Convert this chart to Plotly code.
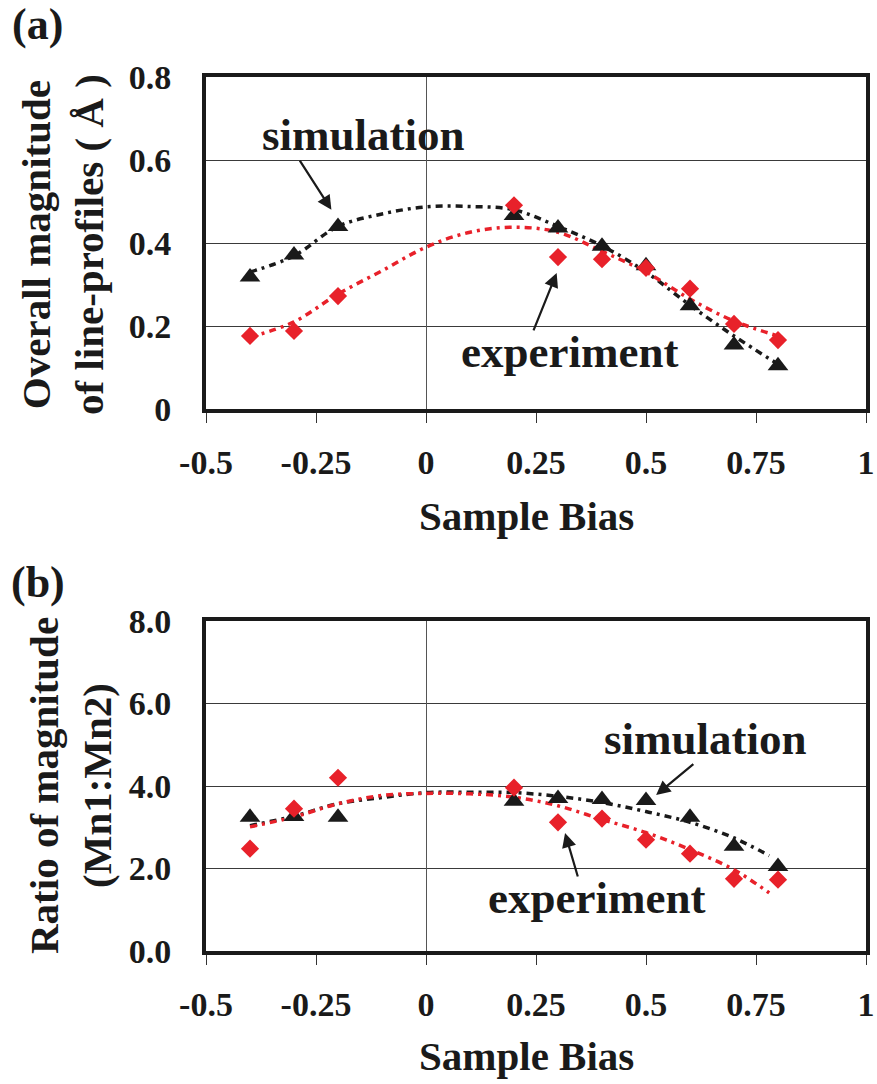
import plotly.graph_objects as go

# ---------------- data ----------------
bias = [-0.4, -0.3, -0.2, 0.2, 0.3, 0.4, 0.5, 0.6, 0.7, 0.8]

sim_a = [0.318, 0.371, 0.440, 0.466, 0.436, 0.392, 0.345, 0.249, 0.154, 0.104]
exp_a = [0.176, 0.188, 0.272, 0.491, 0.366, 0.361, 0.340, 0.290, 0.205, 0.166]

sim_b = [3.24, 3.26, 3.24, 3.63, 3.70, 3.67, 3.65, 3.24, 2.54, 2.05]
exp_b = [2.48, 3.45, 4.20, 3.96, 3.12, 3.21, 2.70, 2.36, 1.75, 1.73]

trend_x = [-0.4, -0.3, -0.2, -0.1, 0.0, 0.1, 0.2, 0.3, 0.4, 0.5, 0.6, 0.7, 0.8]
sim_a_trend = [0.330, 0.369, 0.440, 0.470, 0.487, 0.488, 0.480, 0.440, 0.393, 0.330, 0.250, 0.176, 0.108]
exp_a_trend = [0.173, 0.210, 0.277, 0.333, 0.390, 0.426, 0.438, 0.426, 0.380, 0.330, 0.265, 0.212, 0.176]

trend_x_b = [-0.4, -0.3, -0.2, -0.1, 0.0, 0.1, 0.2, 0.3, 0.4, 0.5, 0.6, 0.7, 0.78]
sim_b_trend = [3.04, 3.27, 3.57, 3.72, 3.84, 3.85, 3.84, 3.75, 3.60, 3.38, 3.12, 2.74, 2.31]
exp_b_trend = [3.01, 3.25, 3.57, 3.77, 3.82, 3.81, 3.73, 3.52, 3.19, 2.87, 2.46, 1.97, 1.41]

x_tickvals = [-0.5, -0.25, 0, 0.25, 0.5, 0.75, 1]
x_ticktext = ["-0.5", "-0.25", "0", "0.25", "0.5", "0.75", "1"]
ya_tickvals = [0, 0.2, 0.4, 0.6, 0.8]
ya_ticktext = ["0", "0.2", "0.4", "0.6", "0.8"]
yb_tickvals = [0, 2, 4, 6, 8]
yb_ticktext = ["0.0", "2.0", "4.0", "6.0", "8.0"]

# ---------------- styling ----------------
W, H = 877, 1084
FONT = "Liberation Serif"
RED = "#e8212a"
BLACK = "#1a1a1a"
DASH = "7px,5px,3px,5px"


def px_x(p):
    return p / W


def px_y(p):
    return 1 - p / H


fig = go.Figure()

# panel (a)
fig.add_trace(go.Scatter(x=trend_x, y=sim_a_trend, mode="lines", line=dict(color=BLACK, width=3.5, dash=DASH, shape="spline"),
                         xaxis="x", yaxis="y", showlegend=False, hoverinfo="skip"))
fig.add_trace(go.Scatter(x=trend_x, y=exp_a_trend, mode="lines", line=dict(color=RED, width=3.5, dash=DASH, shape="spline"),
                         xaxis="x", yaxis="y", showlegend=False, hoverinfo="skip"))
fig.add_trace(go.Scatter(x=bias, y=sim_a, mode="markers", marker=dict(symbol="triangle-up", size=18, color=BLACK),
                         xaxis="x", yaxis="y", showlegend=False))
fig.add_trace(go.Scatter(x=bias, y=exp_a, mode="markers", marker=dict(symbol="diamond", size=14, color=RED),
                         xaxis="x", yaxis="y", showlegend=False))

# panel (b)
fig.add_trace(go.Scatter(x=trend_x_b, y=sim_b_trend, mode="lines", line=dict(color=BLACK, width=3.5, dash=DASH, shape="spline"),
                         xaxis="x2", yaxis="y2", showlegend=False, hoverinfo="skip"))
fig.add_trace(go.Scatter(x=trend_x_b, y=exp_b_trend, mode="lines", line=dict(color=RED, width=3.5, dash=DASH, shape="spline"),
                         xaxis="x2", yaxis="y2", showlegend=False, hoverinfo="skip"))
fig.add_trace(go.Scatter(x=bias, y=sim_b, mode="markers", marker=dict(symbol="triangle-up", size=18, color=BLACK),
                         xaxis="x2", yaxis="y2", showlegend=False))
fig.add_trace(go.Scatter(x=bias, y=exp_b, mode="markers", marker=dict(symbol="diamond", size=14, color=RED),
                         xaxis="x2", yaxis="y2", showlegend=False))

tickfont = dict(family=FONT, size=34, color=BLACK, weight="bold")

xaxis_common = dict(range=[-0.5, 1], tickvals=x_tickvals, ticktext=x_ticktext, showgrid=False,
                    zeroline=True, zerolinecolor="#555555", zerolinewidth=1,
                    showline=True, linecolor=BLACK, linewidth=4, mirror=True,
                    ticks="outside", ticklen=10, tickwidth=1, tickcolor="#333333",
                    tickfont=tickfont, ticklabelstandoff=10, ticklabeloverflow="allow",
                    automargin=False, fixedrange=True)
yaxis_common = dict(showgrid=True, gridcolor="#3a3a3a", gridwidth=1, zeroline=False,
                    showline=True, linecolor=BLACK, linewidth=4, mirror=True,
                    ticks="", tickfont=tickfont, ticklabelstandoff=24, ticklabeloverflow="allow",
                    automargin=False, fixedrange=True)

x_dom = [px_x(206), px_x(866)]

fig.update_layout(
    template="none",
    width=W, height=H,
    margin=dict(l=0, r=0, t=0, b=0, autoexpand=False),
    paper_bgcolor="white", plot_bgcolor="white",
    xaxis=dict(domain=x_dom, anchor="y", **xaxis_common),
    yaxis=dict(domain=[px_y(409), px_y(77)], anchor="x", range=[0, 0.8],
               tickvals=ya_tickvals, ticktext=ya_ticktext, **yaxis_common),
    xaxis2=dict(domain=x_dom, anchor="y2", **xaxis_common),
    yaxis2=dict(domain=[px_y(951), px_y(621)], anchor="x2", range=[0, 8],
                tickvals=yb_tickvals, ticktext=yb_ticktext, **yaxis_common),
)

ann = []
big = dict(family=FONT, size=45, color=BLACK, weight="bold")
lab_font = dict(family=FONT, size=44, color=BLACK, weight="bold")
title_font = dict(family=FONT, size=41, color=BLACK, weight="bold")
C = dict(xanchor="center", yanchor="middle", showarrow=False)

# panel labels
ann.append(dict(text="(a)", x=px_x(37), y=px_y(24), xref="paper", yref="paper", font=lab_font, **C))
ann.append(dict(text="(b)", x=px_x(38), y=px_y(582), xref="paper", yref="paper", font=lab_font, **C))

# axis titles
ann.append(dict(text="Sample Bias", x=px_x(526), y=px_y(516), xref="paper", yref="paper", font=title_font, **C))
ann.append(dict(text="Sample Bias", x=px_x(526), y=px_y(1056), xref="paper", yref="paper", font=title_font, **C))
ann.append(dict(text="Overall magnitude<br>of line-profiles ( Å )", x=px_x(62), y=px_y(245), xref="paper", yref="paper",
                textangle=-90, font=title_font, **C))
ann.append(dict(text="Ratio of magnitude<br>(Mn1:Mn2)", x=px_x(70), y=px_y(786), xref="paper", yref="paper",
                textangle=-90, font=title_font, **C))

# in-plot labels
ann.append(dict(text="simulation", x=-0.141, y=0.66, xref="x", yref="y", font=big, **C))
ann.append(dict(text="experiment", x=0.327, y=0.137, xref="x", yref="y", font=big, **C))
ann.append(dict(text="simulation", x=0.636, y=5.14, xref="x2", yref="y2", font=big, **C))
ann.append(dict(text="experiment", x=0.388, y=1.28, xref="x2", yref="y2", font=big, **C))

# arrows (tail -> head, in data units)
arrow = dict(showarrow=True, arrowhead=2, arrowsize=1.3, arrowwidth=2.2, arrowcolor=BLACK, text="")
ann.append(dict(x=-0.215, y=0.480, ax=-0.289, ay=0.602, xref="x", yref="y", axref="x", ayref="y", **arrow))
ann.append(dict(x=0.297, y=0.328, ax=0.243, ay=0.186, xref="x", yref="y", axref="x", ayref="y", **arrow))
ann.append(dict(x=0.523, y=3.78, ax=0.611, ay=4.56, xref="x2", yref="y2", axref="x2", ayref="y2", **arrow))
ann.append(dict(x=0.316, y=2.86, ax=0.346, ay=1.77, xref="x2", yref="y2", axref="x2", ayref="y2", **arrow))

fig.update_layout(annotations=ann)

fig.write_html("out.html")
